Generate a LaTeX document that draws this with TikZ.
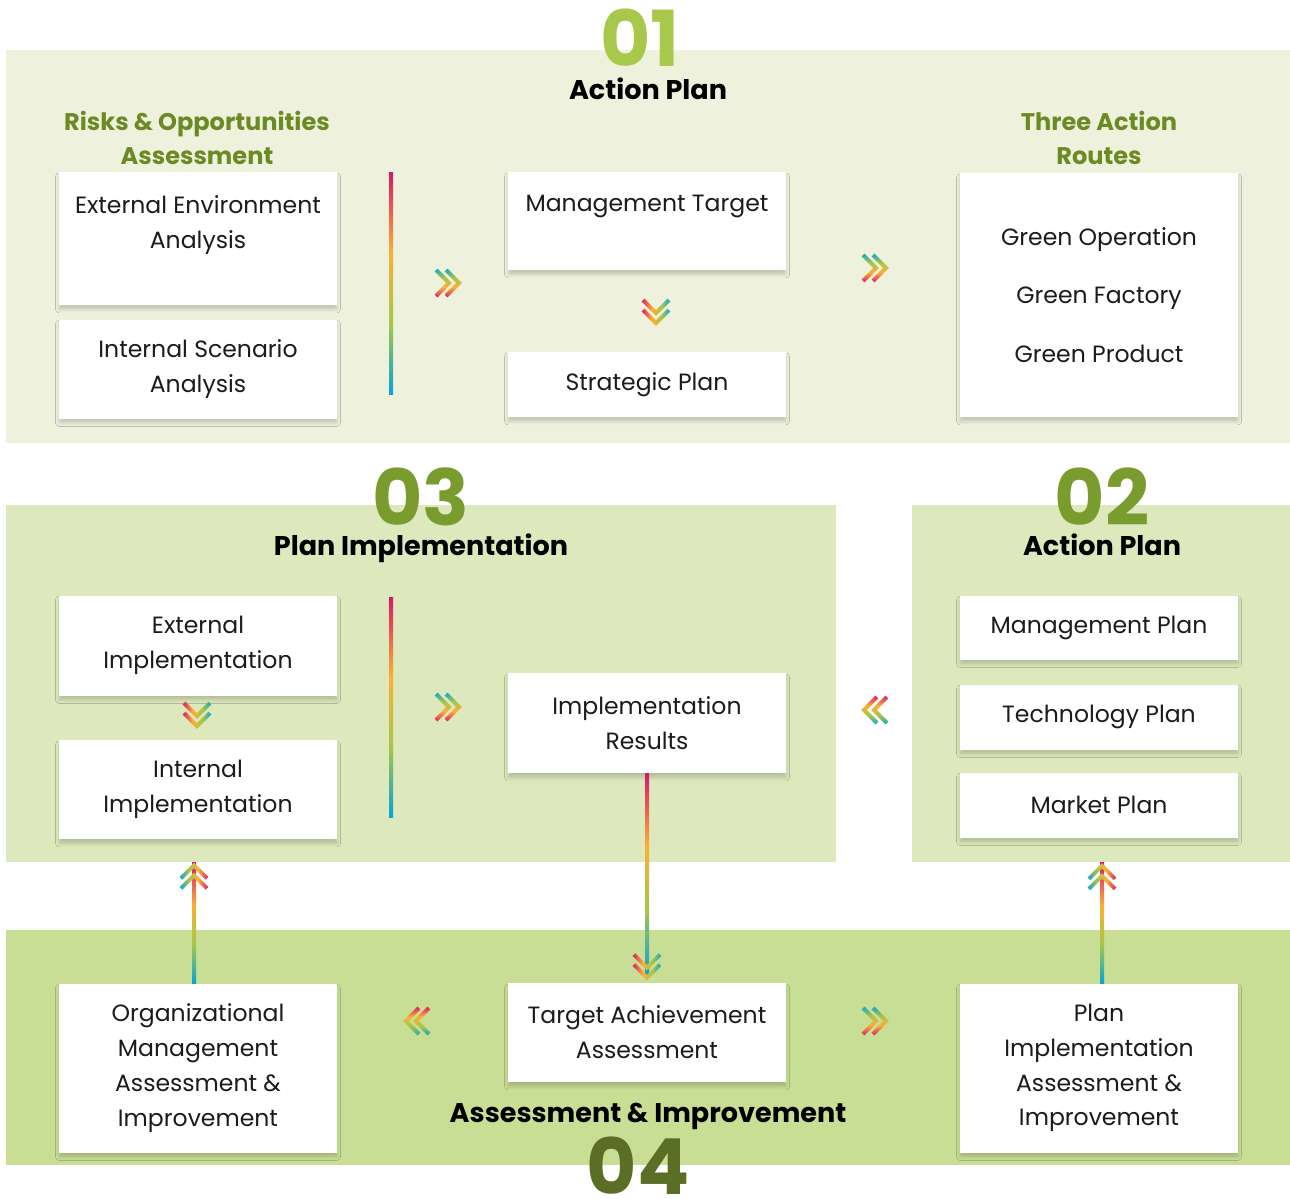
\documentclass[tikz,border=0pt]{standalone}
\usepackage{fontspec}
\setmainfont{Poppins}
\usetikzlibrary{calc,positioning,shadows.blur}

\definecolor{bgtop}{HTML}{EEF2DC}
\definecolor{bgmid}{HTML}{DDE8BC}
\definecolor{bgbot}{HTML}{C8DE94}
\definecolor{numlight}{HTML}{A8C84C}
\definecolor{nummid}{HTML}{7A9B2E}
\definecolor{numdark}{HTML}{5B6E26}
\definecolor{subhead}{HTML}{6B8A23}
\definecolor{ink}{HTML}{1B1B1B}
\definecolor{rbblue}{HTML}{06A3DA}
\definecolor{rbgreen}{HTML}{A6C64A}
\definecolor{rborange}{HTML}{FBB034}
\definecolor{rbpink}{HTML}{D6166A}

\pgfdeclareverticalshading{rainbow}{100bp}{color(0bp)=(rbblue); color(25bp)=(rbblue);
  color(41bp)=(rbgreen); color(57bp)=(rborange); color(75bp)=(rbpink); color(100bp)=(rbpink)}

% one thick chevron, pointing right, tip at #1
\newcommand\chevpart[1]{({#1-11.6},-14.4) -- ({#1+2.8},0) -- ({#1-11.6},14.4)
  -- ({#1-14.4},11.6) -- ({#1-2.8},0) -- ({#1-14.4},-11.6) -- cycle}
% double chevron at #1, turned by #2
\newcommand\chevrons[2]{%
  \begin{scope}
    \clip[shift={#1}, rotate=#2] \chevpart{0} \chevpart{10};
    \pgfmathsetmacro\chevang{#2+180}
    \shade[shift={#1}, shading=rainbow, shading angle=\chevang] (-15,-15) rectangle (15,15);
  \end{scope}}

\tikzset{
  box/.style={fill=white, minimum width=5.56cm, inner sep=0pt, align=center,
    text=ink, font=\fontsize{13.4}{19.84}\selectfont,
    blur shadow={shadow xshift=0pt, shadow yshift=-2.5pt, shadow blur radius=2pt, shadow opacity=18}},
  txt/.style={align=center, text=ink, font=\fontsize{13.4}{19.84}\selectfont},
  head/.style={align=center, text=black, font=\fontsize{15.4}{19.84}\bfseries},
  subhd/.style={align=center, text=subhead, font=\fontsize{13.7}{19.84}\bfseries},
  num/.style={font=\fontsize{44}{44}\bfseries}
}

\begin{document}
\begin{tikzpicture}[x=0.02cm, y=-0.02cm]
  \useasboundingbox (0,0) rectangle (1290,1198);

  % panels
  \fill[bgtop] (6,50) rectangle (1290,443);
  \fill[bgmid] (6,505) rectangle (836,862);
  \fill[bgmid] (912,505) rectangle (1290,862);
  \fill[bgbot] (6,930) rectangle (1290,1165);

  % 01 Action Plan
  \node[num, text=numlight] (n01) at (640,38) {01};
  \node[head] (h01) at (648,89) {Action Plan};
  \node[subhd] (risks) at (197,138) {Risks \& Opportunities\\Assessment};
  \node[subhd] (routes) at (1099,138) {Three Action\\Routes};

  \node[box, minimum height=2.66cm] (env) at (198,238.5) {};
  \node[txt] (envtxt) at ($(env.north)+(0,53)$) {External Environment\\Analysis};
  \node[box, minimum height=1.98cm] (scen) at (198,369) {Internal Scenario\\Analysis};
  \node[box, minimum height=1.96cm] (target0) at (647,221) {};
  \node[txt] (target0txt) at ($(target0.north)+(0,35)$) {Management Target};
  \node[box, minimum height=1.3cm] (strat) at (647,384.5) {Strategic Plan};
  \node[box, minimum height=4.88cm, font=\fontsize{13.4}{33.4}\selectfont] (green) at (1099,295)
    {Green Operation\\Green Factory\\Green Product};

  \shade[shading=rainbow] (389,172) rectangle (393,394);
  \chevrons{(449,283)}{0}
  \chevrons{(656,313)}{-90}
  \chevrons{(876,268)}{0}

  % 03 Plan Implementation
  \node[num, text=nummid] (n03) at (421,497) {03};
  \node[head] (h03) at (421,548) {Plan Implementation};
  \node[box, minimum height=2cm] (extimpl) at (198,645.5) {External\\Implementation};
  \node[box, minimum height=1.98cm] (intimpl) at (198,789.5) {Internal\\Implementation};
  \node[box, minimum height=2cm] (results) at (647,723) {Implementation\\Results};

  \shade[shading=rainbow] (389,597) rectangle (393,817);
  \chevrons{(197,716)}{-90}
  \chevrons{(449,707)}{0}
  \chevrons{(874,710)}{180}

  % 02 Action Plan
  \node[num, text=nummid] (n02) at (1102,497) {02};
  \node[head] (h02) at (1102,545) {Action Plan};
  \node[box, minimum height=1.28cm] (mgmtplan) at (1099,627.5) {Management Plan};
  \node[box, minimum height=1.3cm] (techplan) at (1099,717) {Technology Plan};
  \node[box, minimum height=1.3cm] (mktplan) at (1099,805) {Market Plan};

  % 04 Assessment & Improvement
  \node[box, minimum height=3.38cm] (orgbox) at (198,1068)
    {Organizational\\Management\\Assessment \&\\Improvement};
  \node[box, minimum height=1.98cm] (target) at (647,1032.5) {Target Achievement\\Assessment};
  \node[box, minimum height=3.38cm] (planimpl) at (1099,1068)
    {Plan\\Implementation\\Assessment \&\\Improvement};
  \node[head] (h04) at (648,1116) {Assessment \& Improvement};
  \node[num, text=numdark] (n04) at (638,1166) {04};

  \chevrons{(416,1021)}{180}
  \chevrons{(876,1021)}{0}

  % connectors
  \shade[shading=rainbow] ($(orgbox.north)+(-6,0)$) rectangle ($(intimpl.south)+(-2,23)$);
  \chevrons{($(intimpl.south)+(-4,36)$)}{90}
  \shade[shading=rainbow] ($(results.south)+(-2,0)$) rectangle ($(target.north)+(2,-8)$);
  \chevrons{($(target.north)+(0,-15)$)}{-90}
  \shade[shading=rainbow] ($(planimpl.north)+(1,0)$) rectangle ($(mktplan.south)+(5,25)$);
  \chevrons{($(mktplan.south)+(3,38)$)}{90}
\end{tikzpicture}
\end{document}
